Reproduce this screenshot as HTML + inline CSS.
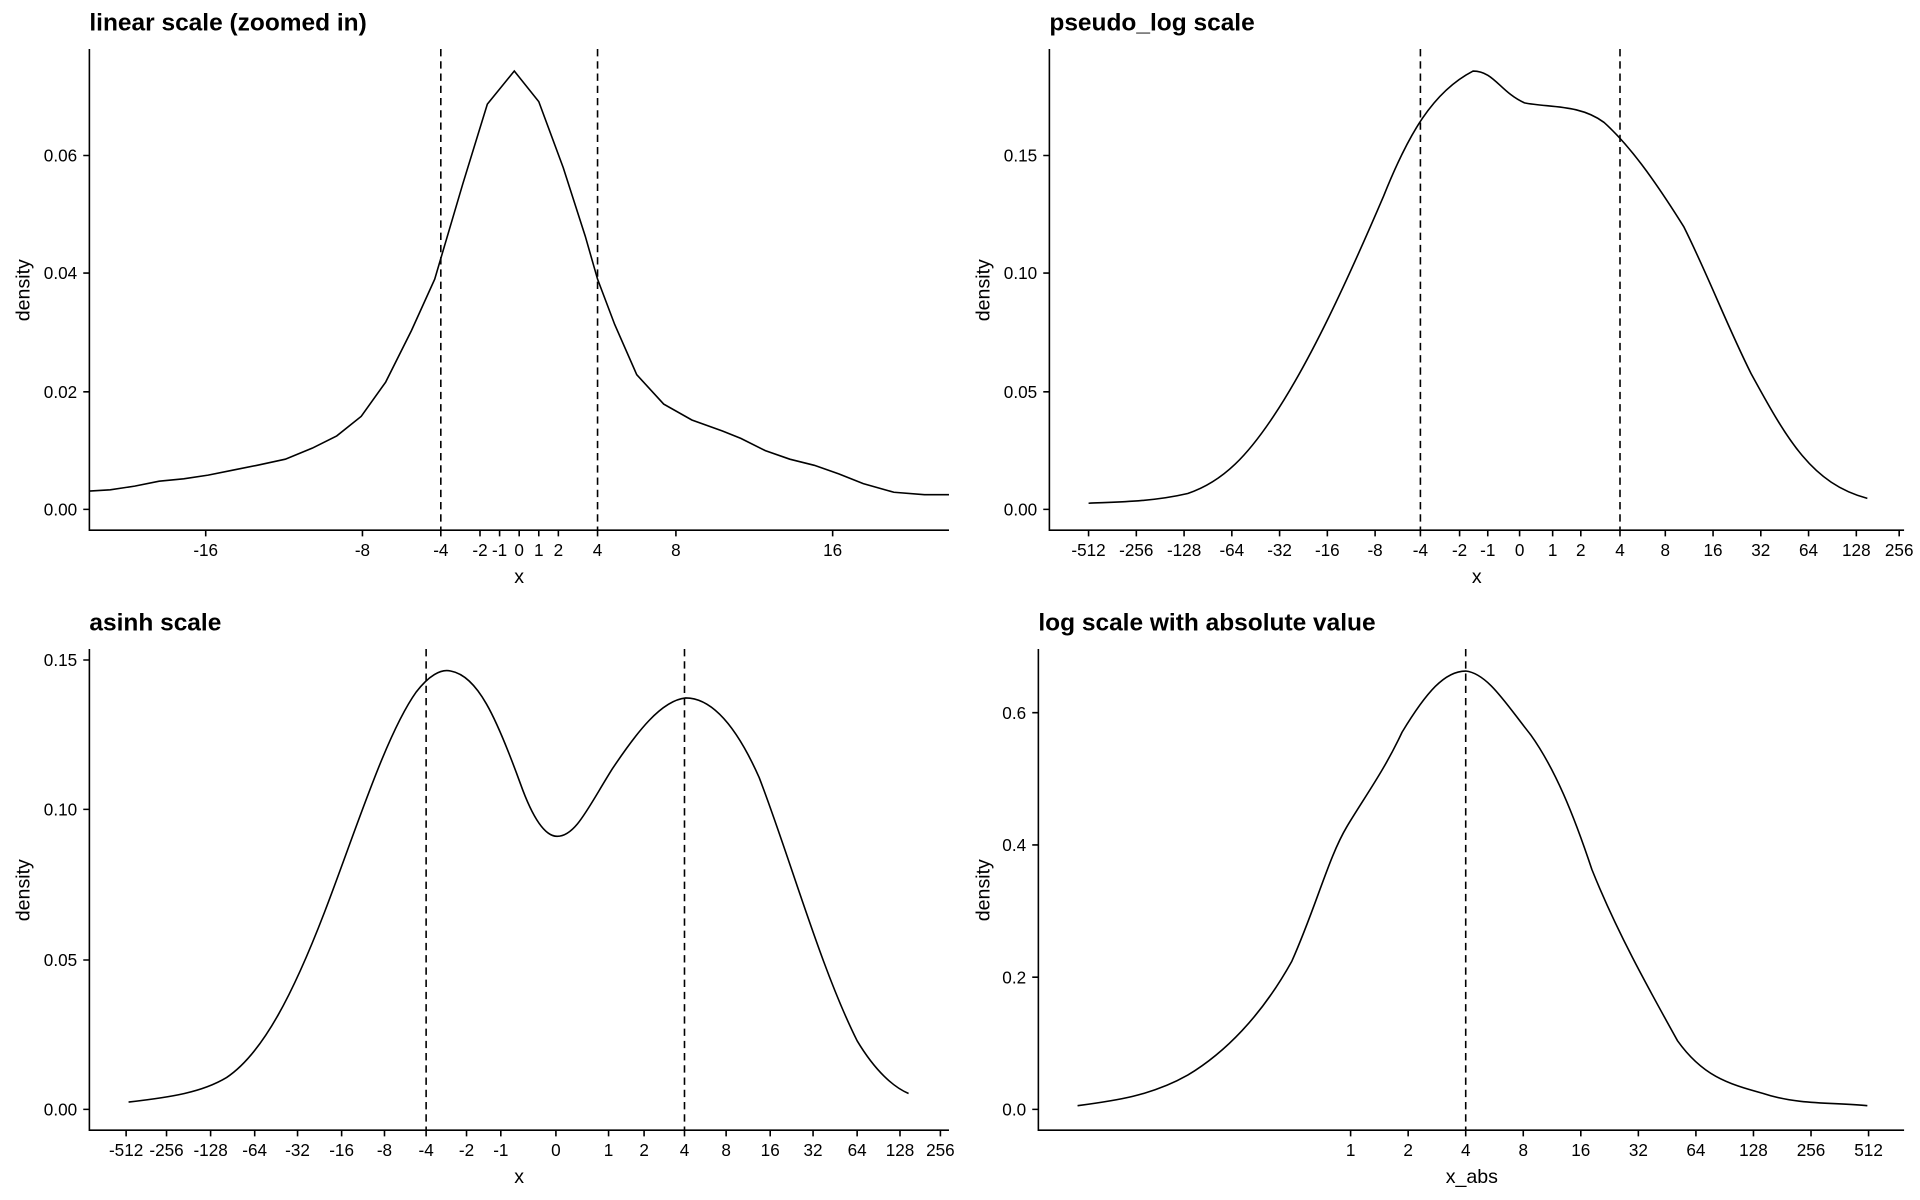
<!DOCTYPE html>
<html><head><meta charset="utf-8"><style>html,body{margin:0;padding:0;background:#fff}svg{display:block}text{font-family:"Liberation Sans",sans-serif;fill:#000}</style></head>
<body>
<svg width="1920" height="1200" viewBox="0 0 1568 980" xmlns="http://www.w3.org/2000/svg">
<g fill="none" stroke="#000" stroke-width="1.3">
<!-- panel 1 -->
<path d="M73,40V433H775"/>
<path d="M68,416H73M68,320H73M68,223H73M68,127H73"/>
<path d="M168,433v5M296,433v5M360,433v5M392,433v5M408,433v5M424,433v5M440,433v5M456,433v5M488,433v5M552,433v5M680,433v5"/>
<path stroke-dasharray="6,4" d="M360,40V433M488,40V433"/>
<polyline points="73,401 90,400 110,397 130,393 150,391 170,388 190,384 210,380 233,375 255,366 275,356 295,340 315,312 336,270 355,228 378,150 398,85 420,58 440,83 460,137 478,193 488,228 502,265 520,306 542,330 565,343 590,352 605,358 625,368 645,375 665,380 685,387 705,395 730,402 755,404 775,404"/>
<!-- panel 2 -->
<path d="M857,40V433H1555"/>
<path d="M852,416H857M852,320H857M852,223H857M852,127H857"/>
<path d="M889,433v5M928,433v5M967,433v5M1006,433v5M1045,433v5M1084,433v5M1123,433v5M1160,433v5M1192,433v5M1215,433v5M1241,433v5M1268,433v5M1291,433v5M1323,433v5M1360,433v5M1399,433v5M1438,433v5M1477,433v5M1516,433v5M1551,433v5"/>
<path stroke-dasharray="6,4" d="M1160,40V433M1323,40V433"/>
<path d="M889,411 C910,410 940,410 970,403 C1000,393 1020,370 1040,340 C1070,295 1100,230 1130,160 C1150,110 1170,75 1203,58 C1220,58 1225,75 1245,84 C1265,88 1290,85 1310,100 C1330,118 1350,145 1375,185 C1395,225 1410,265 1430,305 C1460,360 1480,395 1525,407"/>
<!-- panel 3 -->
<path d="M73,530V923H775"/>
<path d="M68,906H73M68,784H73M68,661H73M68,539H73"/>
<path d="M103,923v5M136,923v5M172,923v5M208,923v5M243,923v5M279,923v5M314,923v5M348,923v5M381,923v5M409,923v5M454,923v5M497,923v5M526,923v5M559,923v5M593,923v5M629,923v5M664,923v5M700,923v5M735,923v5M768,923v5"/>
<path stroke-dasharray="6,4" d="M348,530V923M559,530V923"/>
<path d="M105,900 C140,896 165,892 185,880 C215,860 240,810 265,745 C290,680 315,600 340,565 C350,552 360,546 368,548 C390,552 405,585 425,640 C435,668 445,683 455,683 C470,683 480,660 500,628 C520,598 540,572 560,570 C580,570 600,590 620,635 C645,700 670,790 700,850 C715,875 730,888 742,893"/>
<!-- panel 4 -->
<path d="M848,530V923H1555"/>
<path d="M843,906H848M843,798H848M843,690H848M843,582H848"/>
<path d="M1103,923v5M1150,923v5M1197,923v5M1244,923v5M1291,923v5M1338,923v5M1385,923v5M1432,923v5M1479,923v5M1526,923v5"/>
<path stroke-dasharray="6,4" d="M1197,530V923"/>
<path d="M880,903 C910,899 940,895 970,878 C1000,860 1030,830 1055,785 C1075,740 1085,700 1100,675 C1115,650 1130,630 1145,598 C1165,565 1180,548 1197,548 C1215,550 1230,575 1250,600 C1270,628 1285,665 1300,710 C1320,760 1345,805 1370,850 C1390,878 1410,885 1440,893 C1470,903 1500,900 1525,903"/>
</g>
<g font-size="14">
<g text-anchor="end">
<text x="63" y="421">0.00</text><text x="63" y="325">0.02</text><text x="63" y="228">0.04</text><text x="63" y="132">0.06</text>
<text x="847" y="421">0.00</text><text x="847" y="325">0.05</text><text x="847" y="228">0.10</text><text x="847" y="132">0.15</text>
<text x="63" y="911">0.00</text><text x="63" y="789">0.05</text><text x="63" y="666">0.10</text><text x="63" y="544">0.15</text>
<text x="838" y="911">0.0</text><text x="838" y="803">0.2</text><text x="838" y="695">0.4</text><text x="838" y="587">0.6</text>
</g>
<g text-anchor="middle">
<text x="168" y="454">-16</text><text x="296" y="454">-8</text><text x="360" y="454">-4</text><text x="392" y="454">-2</text><text x="408" y="454">-1</text><text x="424" y="454">0</text><text x="440" y="454">1</text><text x="456" y="454">2</text><text x="488" y="454">4</text><text x="552" y="454">8</text><text x="680" y="454">16</text>
<text x="889" y="454">-512</text><text x="928" y="454">-256</text><text x="967" y="454">-128</text><text x="1006" y="454">-64</text><text x="1045" y="454">-32</text><text x="1084" y="454">-16</text><text x="1123" y="454">-8</text><text x="1160" y="454">-4</text><text x="1192" y="454">-2</text><text x="1215" y="454">-1</text><text x="1241" y="454">0</text><text x="1268" y="454">1</text><text x="1291" y="454">2</text><text x="1323" y="454">4</text><text x="1360" y="454">8</text><text x="1399" y="454">16</text><text x="1438" y="454">32</text><text x="1477" y="454">64</text><text x="1516" y="454">128</text><text x="1551" y="454">256</text>
<text x="103" y="944">-512</text><text x="136" y="944">-256</text><text x="172" y="944">-128</text><text x="208" y="944">-64</text><text x="243" y="944">-32</text><text x="279" y="944">-16</text><text x="314" y="944">-8</text><text x="348" y="944">-4</text><text x="381" y="944">-2</text><text x="409" y="944">-1</text><text x="454" y="944">0</text><text x="497" y="944">1</text><text x="526" y="944">2</text><text x="559" y="944">4</text><text x="593" y="944">8</text><text x="629" y="944">16</text><text x="664" y="944">32</text><text x="700" y="944">64</text><text x="735" y="944">128</text><text x="768" y="944">256</text>
<text x="1103" y="944">1</text><text x="1150" y="944">2</text><text x="1197" y="944">4</text><text x="1244" y="944">8</text><text x="1291" y="944">16</text><text x="1338" y="944">32</text><text x="1385" y="944">64</text><text x="1432" y="944">128</text><text x="1479" y="944">256</text><text x="1526" y="944">512</text>
</g>
<g font-size="16" text-anchor="middle">
<text x="424" y="476">x</text><text x="1206" y="476">x</text><text x="424" y="966">x</text><text x="1202" y="966">x_abs</text>
<text transform="translate(24,237) rotate(-90)">density</text>
<text transform="translate(808,237) rotate(-90)">density</text>
<text transform="translate(24,727) rotate(-90)">density</text>
<text transform="translate(808,727) rotate(-90)">density</text>
</g>
<g font-size="20" font-weight="bold">
<text x="73" y="25">linear scale (zoomed in)</text>
<text x="857" y="25">pseudo_log scale</text>
<text x="73" y="515">asinh scale</text>
<text x="848" y="515">log scale with absolute value</text>
</g>
</g>
</svg>
</body></html>
